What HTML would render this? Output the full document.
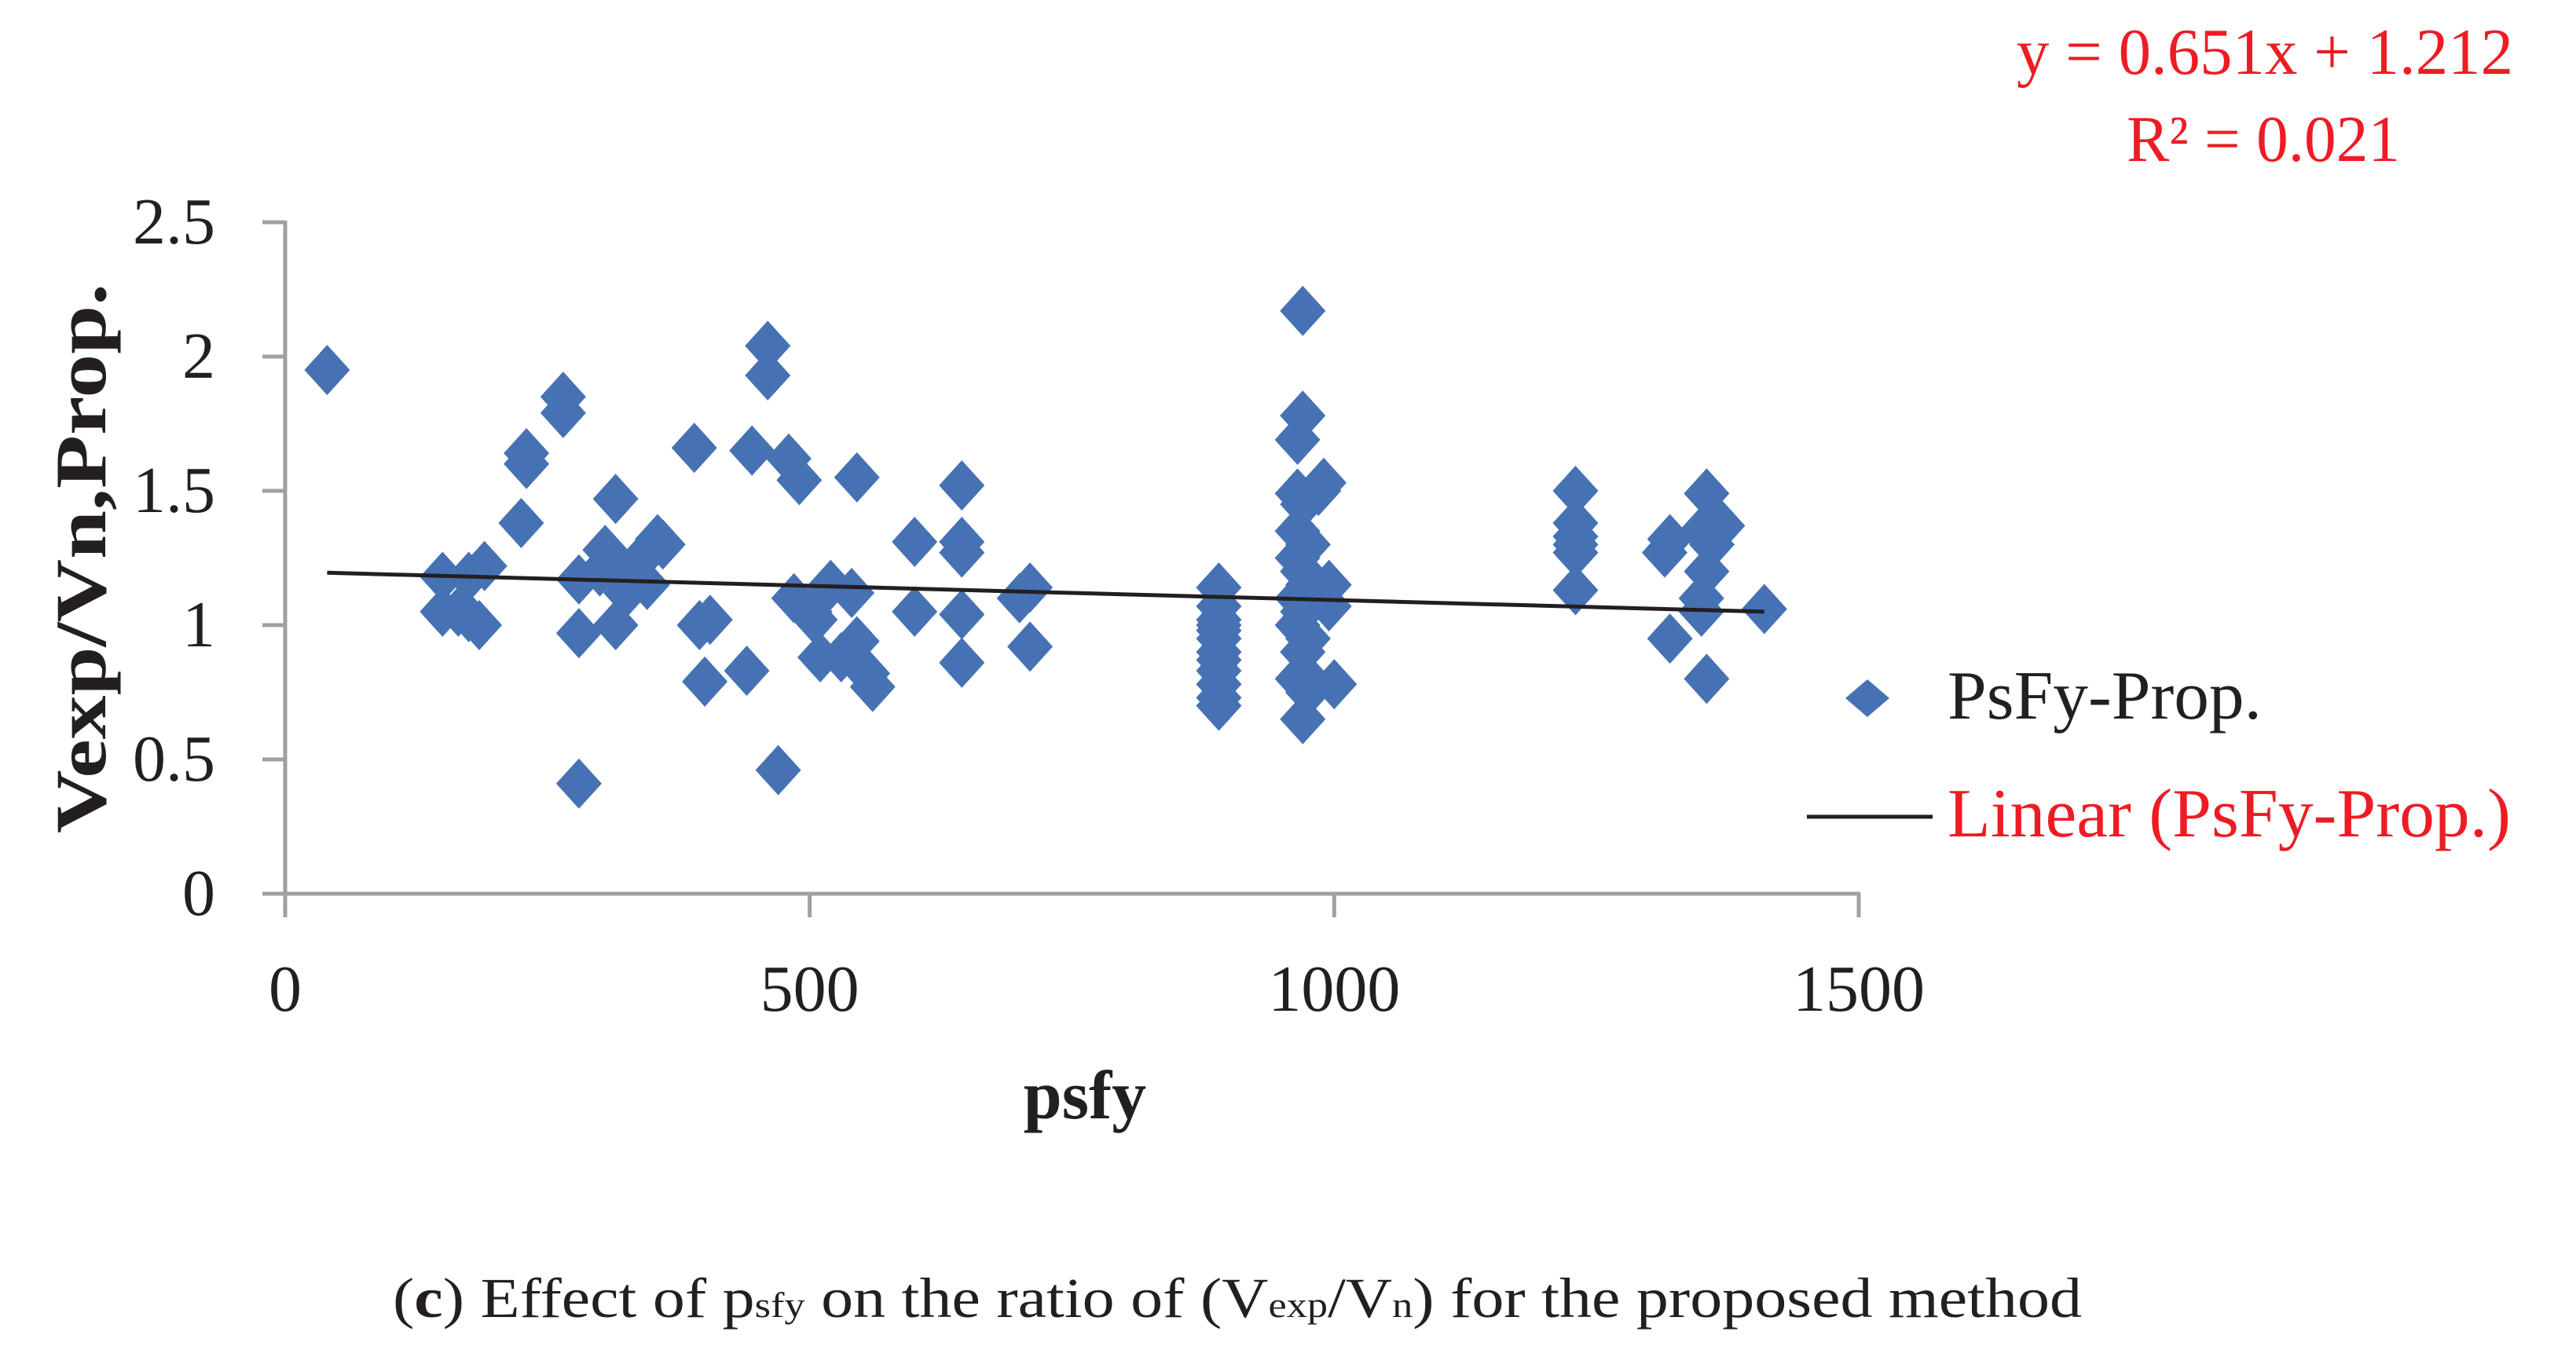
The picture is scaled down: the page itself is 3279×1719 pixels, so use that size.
<!DOCTYPE html>
<html><head><meta charset="utf-8"><style>
html,body{margin:0;padding:0;background:#fff;}
svg{display:block;font-family:"Liberation Serif",serif;}
</style></head><body>
<svg id="chart" width="3279" height="1719" viewBox="0 0 3279 1719" xmlns="http://www.w3.org/2000/svg">
<g id="axes"></g>
<g id="points"></g>
<g id="trend"></g>
<text transform="translate(134,711) rotate(-90)" text-anchor="middle" font-size="92" font-weight="bold" fill="#231f20" textLength="700" lengthAdjust="spacingAndGlyphs">Vexp/Vn,Prop.</text>
<text x="1381" y="1424" text-anchor="middle" font-size="88" font-weight="bold" fill="#231f20">psfy</text>
<text x="2567" y="94" font-size="84" fill="#ed1c24" textLength="632" lengthAdjust="spacingAndGlyphs">y = 0.651x + 1.212</text>
<text x="2707" y="205" font-size="84" fill="#ed1c24" textLength="348" lengthAdjust="spacingAndGlyphs">R² = 0.021</text>
<g>
<polygon points="2377,865 2405,889 2377,913 2349,889" fill="#4672b4"/>
<text x="2479" y="915" font-size="88" fill="#231f20" textLength="400" lengthAdjust="spacingAndGlyphs">PsFy-Prop.</text>
<line x1="2300" y1="1040" x2="2460" y2="1040" stroke="#231f20" stroke-width="5"/>
<text x="2479" y="1065" font-size="88" fill="#ed1c24" textLength="717" lengthAdjust="spacingAndGlyphs">Linear (PsFy-Prop.)</text>
</g>
<text x="500" y="1677" font-size="72" fill="#231f20" textLength="2150" lengthAdjust="spacingAndGlyphs">(<tspan font-weight="bold">c</tspan>) Effect of p<tspan font-size="46">sfy</tspan> on the ratio of (V<tspan font-size="46">exp</tspan>/V<tspan font-size="46">n</tspan>) for the proposed method</text>
</svg>
<script>
const xTicks = [0, 500, 1000, 1500];
const yTicks = [0, 0.5, 1, 1.5, 2, 2.5];
const yTickLabels = ["0", "0.5", "1", "1.5", "2", "2.5"];
const xVals = [40,150,150,165,175,175,185,190,225,230,230,265,265,280,280,280,300,305,315,315,320,325,340,345,355,360,390,395,400,405,440,445,460,460,470,480,485,490,500,505,510,520,530,540,545,545,555,560,600,600,645,645,645,645,645,700,710,710,
890,890,890,890,890,890,890,890,890,890,890,890,
970,970,965,965,970,965,975,965,970,975,965,970,965,975,970,965,975,970,980,
990,995,995,1000,985,
1230,1230,1230,1230,1230,1230,1315,1320,1320,1355,1350,1355,1350,1350,1355,1370,1360,1410];
const yVals = [1.95,1.18,1.05,1.05,1.18,1.03,1.0,1.22,1.38,1.6,1.64,1.79,1.85,0.41,0.97,1.17,1.2,1.28,1.0,1.47,1.18,1.12,1.25,1.15,1.32,1.3,1.66,1.0,0.79,1.02,0.83,1.65,1.93,2.04,0.46,1.62,1.1,1.54,1.05,1.02,0.88,1.15,0.88,1.12,1.55,0.94,0.82,0.77,1.05,1.31,1.52,1.31,1.27,1.04,0.86,1.1,1.14,0.92,
1.14,1.07,1.02,0.98,0.95,0.9,0.87,0.83,0.78,0.73,0.7,1.0,
2.17,1.78,1.69,1.49,1.45,1.35,1.3,1.25,1.2,1.15,1.1,1.05,1.0,0.95,0.9,0.8,0.75,0.65,0.78,
1.53,1.15,1.07,0.78,1.5,
1.5,1.38,1.33,1.3,1.27,1.13,1.27,1.32,0.95,1.49,1.35,1.2,1.1,1.05,0.8,1.37,1.3,1.06];
const trendX = [40, 1410];
const trendY = [1.195, 1.05];

const NS = "http://www.w3.org/2000/svg";
const X0 = 363, X1 = 2366, Y0 = 1138, Y1 = 283;
const sx = v => X0 + (v - 0) / 1500 * (X1 - X0);
const sy = v => Y0 - (v - 0) / 2.5 * (Y0 - Y1);
function mk(tag, attrs, parent) {
  const e = document.createElementNS(NS, tag);
  for (const k in attrs) e.setAttribute(k, attrs[k]);
  parent.appendChild(e);
  return e;
}
const axes = document.getElementById('axes');
const grey = "#a0a0a3";
let l = mk('line', {x1: X0, y1: Y1 - 2, x2: X0, y2: Y0 + 30, stroke: grey, 'stroke-width': 5}, axes);


l = mk('line', {x1: X0 - 29, y1: Y0, x2: X1 + 2, y2: Y0, stroke: grey, 'stroke-width': 5}, axes);


yTicks.forEach((t, i) => {
  const y = sy(t);
  const tk = mk('line', {x1: X0 - 29, y1: y, x2: X0, y2: y, stroke: grey, 'stroke-width': 5}, axes);
  
  
  const tx = mk('text', {x: 274, y: y + 27, 'text-anchor': 'end', 'font-size': 84, fill: '#231f20'}, axes);
  
  
  tx.textContent = yTickLabels[i];
});
xTicks.forEach(t => {
  const x = sx(t);
  const tk = mk('line', {x1: x, y1: Y0, x2: x, y2: Y0 + 30, stroke: grey, 'stroke-width': 5}, axes);
  
  
  const tx = mk('text', {x: x, y: 1287, 'text-anchor': 'middle', 'font-size': 84, fill: '#231f20'}, axes);
  
  
  tx.textContent = String(t);
});
const pts = document.getElementById('points');
xVals.forEach((xv, i) => {
  const cx = sx(xv), cy = sy(yVals[i]);
  const p = mk('polygon', {points: `${cx},${cy-32} ${cx+29},${cy} ${cx},${cy+32} ${cx-29},${cy}`, fill: '#4672b4'}, pts);
  
  
});
const tl = mk('line', {x1: sx(trendX[0]), y1: sy(trendY[0]), x2: sx(trendX[1]), y2: sy(trendY[1]), stroke: '#231f20', 'stroke-width': 5}, document.getElementById('trend'));


</script>
</body></html>
